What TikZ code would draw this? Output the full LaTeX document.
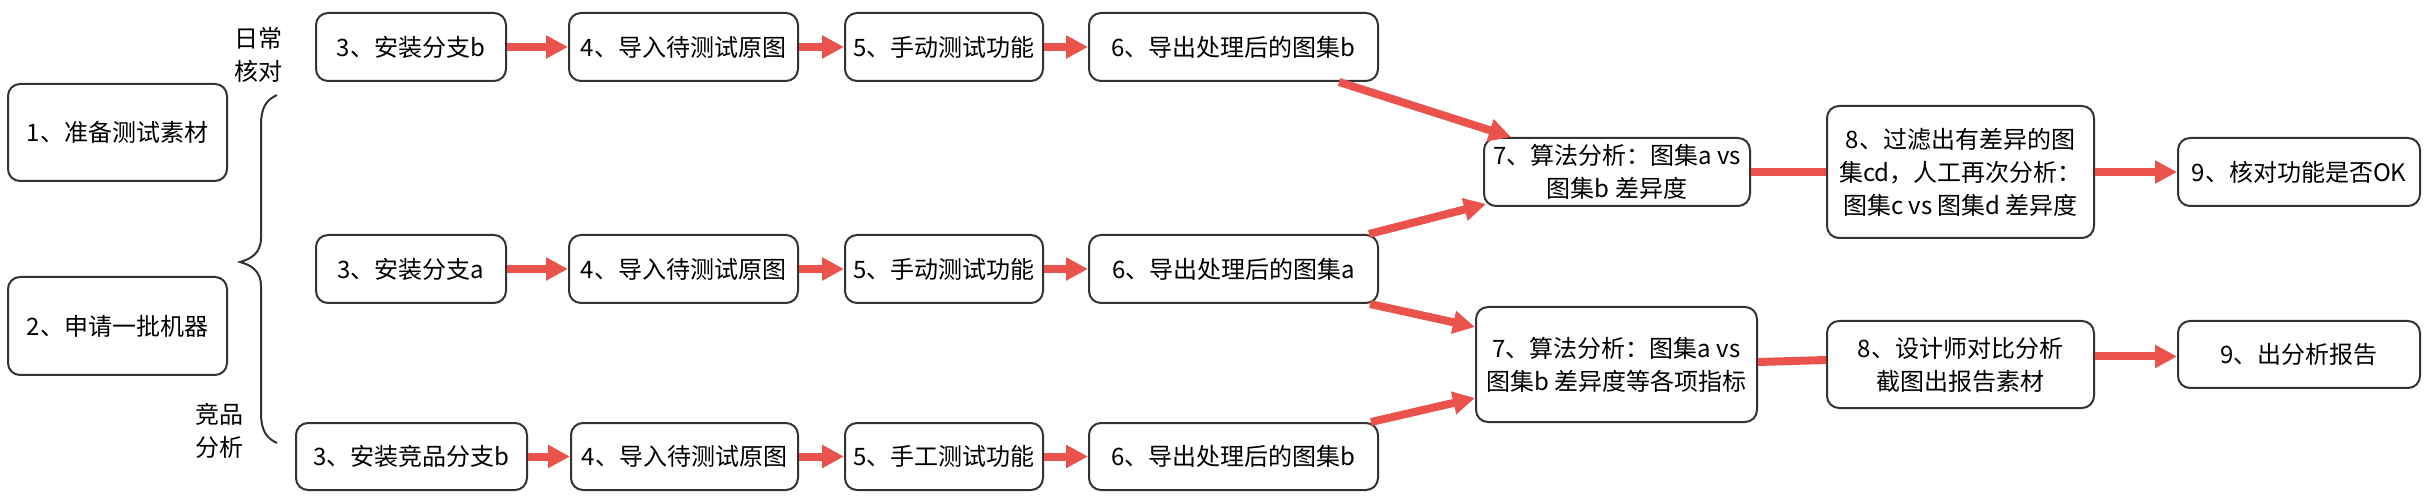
\documentclass[tikz,border=0pt]{standalone}
\usepackage{fontspec}
\setmainfont{Noto Sans CJK SC}
\usetikzlibrary{arrows.meta}
\definecolor{arrred}{RGB}{234,83,75}
\definecolor{edge}{RGB}{51,51,51}
\tikzset{
  box/.style={draw=edge, line width=2pt, rounded corners=12pt, inner sep=0pt, align=center,
    font=\fontsize{24}{33}\selectfont, text=black},
  lbl/.style={inner sep=0pt, align=center, font=\fontsize{24}{33}\selectfont, text=black},
  arr/.style={draw=arrred, line width=8pt, -{Triangle[width=22pt,length=22pt]}},
  ln/.style={draw=arrred, line width=8pt},
  brace/.style={draw=edge, line width=2pt}
}
\begin{document}
\begin{tikzpicture}[x=1pt,y=-1pt]
\useasboundingbox (0,0) rectangle (2428,502);
% left boxes
\node[box, minimum width=219pt, minimum height=97pt] (n1) at (117.5,132.5) {1、准备测试素材};
\node[box, minimum width=219pt, minimum height=98pt] (n2) at (117.5,326) {2、申请一批机器};
% labels
\node[lbl] (lt) at (258,55) {日常\\核对};
\node[lbl] (lb) at (219.5,431) {竞品\\分析};
% brace
\draw[brace] (277,95) .. controls (266,100) and (261,108) .. (261,125) -- (261,238)
  .. controls (261,253) and (251,259) .. (240,262)
  .. controls (251,265) and (261,271) .. (261,286) -- (261,413)
  .. controls (261,430) and (266,438) .. (277,443);
% top row
\node[box, minimum width=190pt, minimum height=68pt] (n3t) at (411,47) {3、安装分支b};
\node[box, minimum width=229pt, minimum height=68pt] (n4t) at (683.5,47) {4、导入待测试原图};
\node[box, minimum width=198pt, minimum height=68pt] (n5t) at (944,47) {5、手动测试功能};
\node[box, minimum width=289pt, minimum height=68pt] (n6t) at (1233.5,47) {6、导出处理后的图集b};
% middle row
\node[box, minimum width=190pt, minimum height=68pt] (n3m) at (411,269) {3、安装分支a};
\node[box, minimum width=229pt, minimum height=68pt] (n4m) at (683.5,269) {4、导入待测试原图};
\node[box, minimum width=198pt, minimum height=68pt] (n5m) at (944,269) {5、手动测试功能};
\node[box, minimum width=289pt, minimum height=68pt] (n6m) at (1233.5,269) {6、导出处理后的图集a};
% bottom row
\node[box, minimum width=231pt, minimum height=67pt] (n3b) at (411.5,456.5) {3、安装竞品分支b};
\node[box, minimum width=227pt, minimum height=67pt] (n4b) at (684.5,456.5) {4、导入待测试原图};
\node[box, minimum width=198pt, minimum height=67pt] (n5b) at (944,456.5) {5、手工测试功能};
\node[box, minimum width=289pt, minimum height=67pt] (n6b) at (1233.5,456.5) {6、导出处理后的图集b};
% analysis
\node[box, minimum width=266pt, minimum height=68pt] (n7t) at (1617,172) {7、算法分析：图集a vs\\图集b 差异度};
\node[box, minimum width=281pt, minimum height=115pt] (n7b) at (1616.5,364.5) {7、算法分析：图集a vs\\图集b 差异度等各项指标};
\node[box, minimum width=267pt, minimum height=132pt] (n8t) at (1960.5,172) {8、过滤出有差异的图\\集cd，人工再次分析：\\图集c vs 图集d 差异度};
\node[box, minimum width=267pt, minimum height=87pt] (n8b) at (1960.5,364.5) {8、设计师对比分析\\截图出报告素材};
\node[box, minimum width=242pt, minimum height=68pt] (n9t) at (2299,172) {9、核对功能是否OK};
\node[box, minimum width=242pt, minimum height=67pt] (n9b) at (2299,354.5) {9、出分析报告};
% row connectors
\draw[arr] (n3t) -- (n4t);
\draw[arr] (n4t) -- (n5t);
\draw[arr] (n5t) -- (n6t);
\draw[arr] (n3m) -- (n4m);
\draw[arr] (n4m) -- (n5m);
\draw[arr] (n5m) -- (n6m);
\draw[arr] (n3b) -- (n4b);
\draw[arr] (n4b) -- (n5b);
\draw[arr] (n5b) -- (n6b);
% diagonal connectors
\draw[arr] ([xshift=-40pt]n6t.south east) -- ([xshift=28pt]n7t.north west);
\draw[arr] ([xshift=-10pt]n6m.north east) -- ([xshift=3pt,yshift=3pt]n7t.south west);
\draw[arr] ([xshift=-9pt]n6m.south east) -- ([yshift=-21pt]n7b.north west);
\draw[arr] ([xshift=-8pt]n6b.north east) -- ([yshift=25pt]n7b.south west);
% to step 8 and 9
\draw[ln] (n7t) -- (n8t);
\draw[ln] ([yshift=2.5pt]n7b.east) -- ([yshift=4.5pt]n8b.west);
\draw[arr] (n8t) -- (n9t);
\draw[arr] ([yshift=8pt]n8b.east) -- ([yshift=-2pt]n9b.west);
\end{tikzpicture}
\end{document}
